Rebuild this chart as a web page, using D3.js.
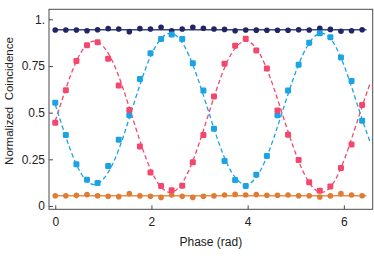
<!DOCTYPE html>
<html>
<head>
<meta charset="utf-8">
<script src="https://cdn.jsdelivr.net/npm/d3@7"></script>
<style>
  html, body { margin: 0; padding: 0; background: #fff; }
  svg { display: block; font-family: "Liberation Sans", Arial, sans-serif; }
</style>
</head>
<body>
<svg id="chart" width="374" height="260"></svg>
<script>
// Datos
const phase = [0, 0.22, 0.44, 0.66, 0.88, 1.10, 1.32, 1.54, 1.76, 1.98,
    2.20, 2.42, 2.64, 2.86, 3.08, 3.30, 3.52, 3.74, 3.96, 4.18,
    4.40, 4.62, 4.84, 5.06, 5.28, 5.50, 5.72, 5.94, 6.16, 6.38];

const navyValues = [0.943, 0.943, 0.943, 0.939, 0.944, 0.950, 0.948, 0.934, 0.950, 0.948,
    0.957, 0.939, 0.948, 0.957, 0.952, 0.948, 0.946, 0.939, 0.943, 0.942,
    0.941, 0.941, 0.941, 0.944, 0.943, 0.952, 0.946, 0.936, 0.939, 0.944];

const redValues = [0.446, 0.620, 0.777, 0.861, 0.877, 0.789, 0.645, 0.514, 0.319, 0.180,
    0.107, 0.084, 0.109, 0.234, 0.380, 0.587, 0.762, 0.859, 0.896, 0.833,
    0.736, 0.512, 0.382, 0.246, 0.127, 0.082, 0.105, 0.204, 0.330, 0.541];

const blueValues = [0.553, 0.380, 0.223, 0.141, 0.123, 0.214, 0.355, 0.486, 0.680, 0.818,
    0.894, 0.918, 0.894, 0.764, 0.618, 0.414, 0.241, 0.139, 0.107, 0.168,
    0.268, 0.486, 0.618, 0.757, 0.875, 0.925, 0.904, 0.796, 0.670, 0.457];

const orangeValues = [0.055, 0.055, 0.057, 0.061, 0.055, 0.052, 0.050, 0.066, 0.054, 0.052,
    0.046, 0.059, 0.052, 0.046, 0.052, 0.054, 0.059, 0.062, 0.059, 0.061,
    0.057, 0.057, 0.059, 0.055, 0.055, 0.048, 0.054, 0.066, 0.059, 0.055];

// Curvas de ajuste (valores leídos a lo largo de las líneas discontinuas)
const fitPhase = [0, 0.42, 0.81, 1.21, 1.60, 1.99, 2.39, 2.78, 3.17, 3.56, 3.96, 4.35, 4.74, 5.14, 5.53, 5.92, 6.31, 6.55];
const fitRed = [0.455, 0.764, 0.883, 0.764, 0.478, 0.192, 0.073, 0.192, 0.478, 0.764, 0.883, 0.764, 0.478, 0.192, 0.073, 0.192, 0.478, 0.66];
const fitBlue = [0.543, 0.234, 0.115, 0.234, 0.520, 0.806, 0.925, 0.806, 0.520, 0.234, 0.115, 0.234, 0.520, 0.806, 0.925, 0.806, 0.520, 0.34];

// Líneas planas de ajuste
const flatPhase = [-0.04, 6.47];
const navyLevel = [0.944, 0.944];
const orangeLevel = [0.055, 0.055];

const xTicks = [0, 2, 4, 6];
const yTicks = [0, 0.25, 0.5, 0.75, 1];
const yTickLabels = ["0", "0.25", "0.5", "0.75", "1."];

const colores = {
    navy: "#1f2566",
    red: "#f3476d",
    blue: "#1ba3e6",
    orange: "#e07b30"
};

const svg = d3.select("#chart");

// Marco del gráfico
const margen = { left: 49, right: 372.7, top: 9.3, bottom: 209.3 };

const x = d3.scaleLinear().domain([-0.13, 6.6]).range([margen.left, margen.right]);
const y = d3.scaleLinear().domain([-0.0177, 1.0536]).range([margen.bottom, margen.top]);

svg.append("rect")
    .attr("x", margen.left).attr("y", margen.top)
    .attr("width", margen.right - margen.left).attr("height", margen.bottom - margen.top)
    .attr("fill", "none")
    .attr("stroke", "#4a4a4a")
    .attr("stroke-width", 1);

// Ejes con marcas hacia dentro
const xAxis = d3.axisBottom(x).tickValues(xTicks).tickSizeInner(-4).tickSizeOuter(0).tickPadding(8)
    .tickFormat(d3.format("d"));
svg.append("g")
    .attr("transform", "translate(0," + margen.bottom + ")")
    .call(xAxis)
    .call(g => g.select(".domain").remove());

const yAxis = d3.axisLeft(y).tickValues(yTicks).tickSizeInner(-4).tickSizeOuter(0).tickPadding(4)
    .tickFormat((d, i) => yTickLabels[i]);
svg.append("g")
    .attr("transform", "translate(" + margen.left + ",0)")
    .call(yAxis)
    .call(g => g.select(".domain").remove());

svg.selectAll(".tick line").attr("stroke", "#4a4a4a");
svg.selectAll(".tick text")
    .attr("font-size", 12)
    .attr("fill", "#222")
    .attr("font-family", "Liberation Sans, Arial, sans-serif");

// Títulos de los ejes
svg.append("text")
    .attr("x", (margen.left + margen.right) / 2)
    .attr("y", 246)
    .attr("text-anchor", "middle")
    .attr("font-size", 12)
    .attr("fill", "#222")
    .text("Phase (rad)");

svg.append("text")
    .attr("transform", "translate(13,101) rotate(-90)")
    .attr("text-anchor", "middle")
    .attr("font-size", 11.5)
    .attr("fill", "#222")
    .style("white-space", "pre")
    .text("Normalized  Coincidence");

// Generadores de línea
const flatLine = d3.line()
    .x(d => x(d[0]))
    .y(d => y(d[1]));

const fitLine = d3.line()
    .x(d => x(d[0]))
    .y(d => y(d[1]))
    .curve(d3.curveNatural);

const plot = svg.append("g");

// Ajustes planos
plot.append("path")
    .datum(d3.zip(flatPhase, navyLevel))
    .attr("d", flatLine)
    .attr("fill", "none")
    .attr("stroke", colores.navy)
    .attr("stroke-opacity", 0.85)
    .attr("stroke-width", 1.5);

plot.append("path")
    .datum(d3.zip(flatPhase, orangeLevel))
    .attr("d", flatLine)
    .attr("fill", "none")
    .attr("stroke", colores.orange)
    .attr("stroke-opacity", 0.85)
    .attr("stroke-width", 1.5);

// Ajustes sinusoidales discontinuos
plot.append("path")
    .datum(d3.zip(fitPhase, fitRed))
    .attr("d", fitLine)
    .attr("fill", "none")
    .attr("stroke", colores.red)
    .attr("stroke-width", 1.3)
    .attr("stroke-dasharray", "4.5,2.8");

plot.append("path")
    .datum(d3.zip(fitPhase, fitBlue))
    .attr("d", fitLine)
    .attr("fill", "none")
    .attr("stroke", colores.blue)
    .attr("stroke-width", 1.3)
    .attr("stroke-dasharray", "4.5,2.8");

// Puntos circulares
function circulos(values, color) {
    plot.append("g")
        .selectAll("circle")
        .data(d3.zip(phase, values))
        .enter().append("circle")
        .attr("cx", d => x(d[0]))
        .attr("cy", d => y(d[1]))
        .attr("r", 2.8)
        .attr("fill", color);
}

// Puntos cuadrados
function cuadrados(values, color) {
    const s = 6;
    plot.append("g")
        .selectAll("rect")
        .data(d3.zip(phase, values))
        .enter().append("rect")
        .attr("x", d => x(d[0]) - s / 2)
        .attr("y", d => y(d[1]) - s / 2)
        .attr("width", s)
        .attr("height", s)
        .attr("rx", 1.4)
        .attr("fill", color);
}

circulos(navyValues, colores.navy);
circulos(orangeValues, colores.orange);
cuadrados(blueValues, colores.blue);
cuadrados(redValues, colores.red);
</script>
</body>
</html>
